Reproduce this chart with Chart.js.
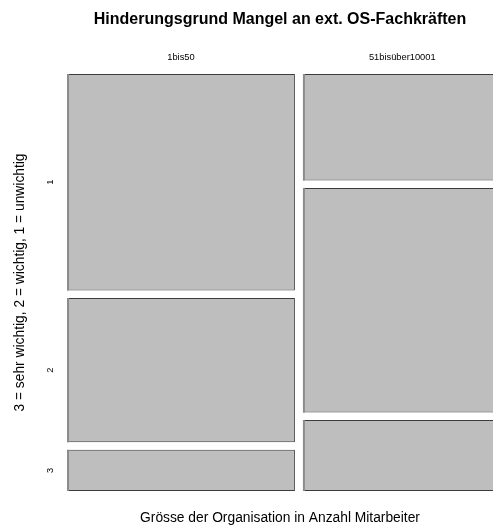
<!DOCTYPE html>
<html>
<head>
<meta charset="utf-8">
<script src="https://cdn.jsdelivr.net/npm/chart.js@4/dist/chart.umd.min.js"></script>
<style>
  html, body { margin: 0; padding: 0; background: #ffffff; }
</style>
</head>
<body>
<canvas id="mosaic" width="493" height="526"></canvas>
<script>
// Column groups (organisation size) and row levels (importance rating)
const sizeGroups = ['1bis50', '51bisüber10001'];
const importanceLevels = ['1', '2', '3'];
// Counts per importance level within each size group
const counts1bis50 = [21, 14, 4];
const counts51bis = [9, 19, 6];
const countsByGroup = [counts1bis50, counts51bis];

// Tile spacing
const GAP_X = 1.37;   // gap between columns, in count units
const GAP_Y = 0.018;  // gap between tiles, as a share of the full height
const X_MAX = 72.9;   // visible extent of the horizontal count axis

// Mosaic layout: column widths follow group totals, tile heights follow shares
const columns = [];
let xStart = 0;
countsByGroup.forEach(counts => {
  const total = counts.reduce((a, b) => a + b, 0);
  const usable = 1 - GAP_Y * (counts.length - 1);
  let yStart = 0;
  const tiles = counts.map(n => {
    const h = usable * n / total;
    const t = { y0: yStart, y1: yStart + h };
    yStart += h + GAP_Y;
    return t;
  });
  columns.push({ width: total, center: xStart + total / 2, tiles });
  xStart += total + GAP_X;
});
const spacing = columns[1].center - columns[0].center;

const datasets = [];
columns.forEach((col, gi) => {
  col.tiles.forEach((t, li) => {
    datasets.push({
      label: sizeGroups[gi] + ' / ' + importanceLevels[li],
      data: [{ x: col.center, y: [t.y0, t.y1] }],
      barPercentage: col.width / spacing,
      categoryPercentage: 1,
      grouped: false,
      backgroundColor: '#bebebe',
      borderColor: '#3c3c3c',
      borderWidth: { top: 1, right: 1, bottom: 1, left: 0 },
      borderSkipped: false
    });
  });
});

// Lighter left edge on every tile
const tileEdge = {
  id: 'tileEdge',
  afterDatasetsDraw(chart) {
    const ctx = chart.ctx;
    const a = chart.chartArea;
    ctx.save();
    ctx.beginPath();
    ctx.rect(a.left, a.top, a.right - a.left, a.bottom - a.top);
    ctx.clip();
    ctx.fillStyle = '#8c8c8c';
    chart.data.datasets.forEach((ds, i) => {
      chart.getDatasetMeta(i).data.forEach(el => {
        const p = el.getProps(['x', 'y', 'base', 'width'], true);
        const left = p.x - p.width / 2;
        const top = Math.min(p.y, p.base);
        ctx.fillRect(left, top, 2, Math.abs(p.base - p.y));
      });
    });
    ctx.restore();
  }
};

Chart.defaults.font.family = "'Liberation Sans', Arial, sans-serif";
Chart.defaults.color = '#000000';

new Chart(document.getElementById('mosaic'), {
  type: 'bar',
  data: { datasets },
  options: {
    responsive: false,
    animation: false,
    devicePixelRatio: 1,
    layout: { padding: { top: 10.4, left: 11.7, right: 0, bottom: 0 } },
    plugins: { legend: { display: false }, tooltip: { enabled: false } },
    scales: {
      x: {
        type: 'linear',
        position: 'top',
        offset: false,
        min: 0,
        max: X_MAX,
        grid: { display: false, drawTicks: false },
        border: { display: false },
        afterBuildTicks: s => { s.ticks = columns.map(c => ({ value: c.center })); },
        ticks: {
          autoSkip: false,
          maxRotation: 0,
          padding: 11.4,
          font: { size: 9.3 },
          callback: (v, i) => sizeGroups[i]
        },
        title: {
          display: true,
          text: 'Hinderungsgrund Mangel an ext. OS-Fachkräften',
          font: { size: 16, weight: 'bold' },
          padding: { top: 0, bottom: 10.4 }
        }
      },
      xb: {
        type: 'linear',
        axis: 'x',
        position: 'bottom',
        offset: false,
        min: 0,
        max: 1,
        grid: { display: false, drawTicks: false },
        border: { display: false },
        ticks: { display: false },
        title: {
          display: true,
          text: 'Grösse der Organisation in Anzahl Mitarbeiter',
          font: { size: 13.8 },
          padding: { top: 18.4, bottom: 0 }
        }
      },
      y: {
        type: 'linear',
        reverse: true,
        min: 0,
        max: 1,
        grid: { display: false, drawTicks: false },
        border: { display: false },
        afterBuildTicks: s => {
          s.ticks = columns[0].tiles.map(t => ({ value: (t.y0 + t.y1) / 2 }));
        },
        ticks: {
          autoSkip: false,
          minRotation: 90,
          maxRotation: 90,
          crossAlign: 'center',
          padding: 14.4,
          font: { size: 9.3 },
          callback: (v, i) => importanceLevels[i]
        },
        title: {
          display: true,
          text: '3 = sehr wichtig, 2 = wichtig, 1 = unwichtig',
          font: { size: 13.8 },
          padding: { top: 0, bottom: -1.2 }
        }
      }
    }
  },
  plugins: [tileEdge]
});
</script>
</body>
</html>
